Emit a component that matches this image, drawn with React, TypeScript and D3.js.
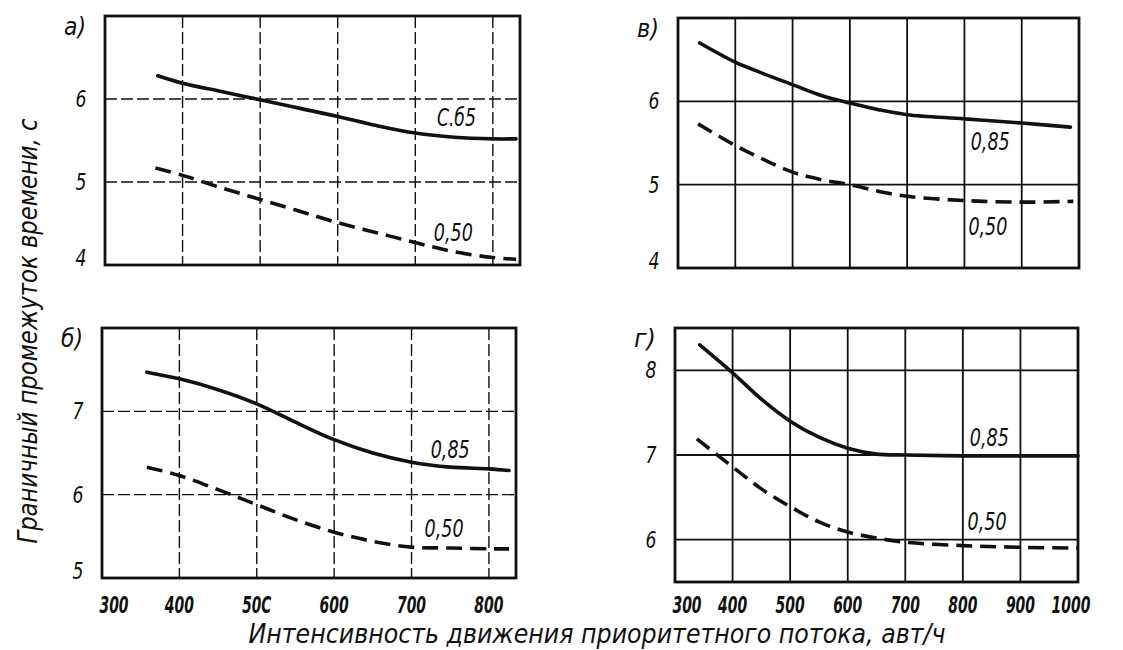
import React from "react";
import * as d3 from "d3";

// x ticks
const xTicksLeft = [300, 400, 500, 600, 700, 800];
const xTickLabelsLeft = ["300", "400", "50C", "600", "700", "800"];
const xTicksRight = [300, 400, 500, 600, 700, 800, 900, 1000];
const xTickLabelsRight = ["300", "400", "500", "600", "700", "800", "900", "1000"];

// panel a)
const aSolidX = [368, 400, 450, 500, 550, 600, 650, 700, 750, 800, 830];
const aSolidY = [6.28, 6.19, 6.09, 5.99, 5.89, 5.79, 5.68, 5.59, 5.54, 5.52, 5.52];
const aDashX = [365, 400, 450, 500, 550, 600, 650, 700, 750, 800, 830];
const aDashY = [5.17, 5.08, 4.93, 4.79, 4.65, 4.51, 4.39, 4.27, 4.16, 4.09, 4.07];

// panel б)
const bSolidX = [358, 400, 450, 500, 550, 600, 650, 700, 750, 800, 826];
const bSolidY = [7.47, 7.39, 7.26, 7.09, 6.87, 6.66, 6.5, 6.39, 6.33, 6.31, 6.29];
const bDashX = [358, 400, 450, 500, 550, 600, 650, 700, 750, 800, 826];
const bDashY = [6.33, 6.23, 6.06, 5.88, 5.7, 5.55, 5.44, 5.37, 5.36, 5.35, 5.35];

// panel в)
const vSolidX = [338, 400, 450, 500, 550, 600, 650, 700, 800, 900, 985];
const vSolidY = [6.7, 6.47, 6.33, 6.2, 6.07, 5.98, 5.9, 5.84, 5.79, 5.74, 5.69];
const vDashX = [335, 400, 450, 500, 550, 600, 650, 700, 800, 900, 990];
const vDashY = [5.73, 5.47, 5.3, 5.15, 5.06, 5.0, 4.92, 4.86, 4.81, 4.79, 4.8];

// panel г)
const gSolidX = [343, 400, 450, 500, 550, 600, 650, 700, 800, 900, 1000];
const gSolidY = [8.3, 7.97, 7.66, 7.4, 7.21, 7.08, 7.01, 7.0, 6.99, 6.99, 6.99];
const gDashX = [338, 400, 450, 500, 550, 600, 650, 700, 800, 900, 1000];
const gDashY = [7.19, 6.86, 6.6, 6.39, 6.21, 6.09, 6.02, 5.97, 5.93, 5.91, 5.9];

const FONT = "'DejaVu Sans Condensed', 'Liberation Sans Narrow', sans-serif";
const INK = "#111";

type Curve = { xs: number[]; ys: number[] };
type Lbl = { text: string; x: number; y: number };

interface PanelProps {
  box: [number, number, number, number];
  xDomain: [number, number];
  yDomain: [number, number];
  xGrid: number[];
  yGrid: number[];
  yLabels: number[];
  xLabels?: { ticks: number[]; text: string[] };
  solid: Curve;
  dashed: Curve;
  labels: Lbl[];
  letter: string;
  gridDash: string | undefined;
}

const line = d3.line<[number, number]>().curve(d3.curveCatmullRom.alpha(0.5));

const Panel = ({
  box,
  xDomain,
  yDomain,
  xGrid,
  yGrid,
  yLabels,
  xLabels,
  solid,
  dashed,
  labels,
  letter,
  gridDash,
}: PanelProps) => {
  const [x0, x1, y0, y1] = box;
  const x = d3.scaleLinear().domain(xDomain).range([x0, x1]);
  const y = d3.scaleLinear().domain(yDomain).range([y1, y0]);
  const path = (c: Curve) =>
    line.x((d) => x(d[0])).y((d) => y(d[1]))(
      c.xs.map((v, i) => [v, c.ys[i]] as [number, number])
    ) as string;
  const gw = gridDash ? 1.4 : 1.8;

  return (
    <g>
      {xGrid.map((v) => (
        <line
          key={"vx" + v}
          x1={x(v)}
          x2={x(v)}
          y1={y0}
          y2={y1}
          stroke={INK}
          strokeWidth={gw}
          strokeDasharray={gridDash}
        />
      ))}
      {yGrid.map((v) => (
        <line
          key={"hy" + v}
          x1={x0}
          x2={x1}
          y1={y(v)}
          y2={y(v)}
          stroke={INK}
          strokeWidth={gw}
          strokeDasharray={gridDash}
        />
      ))}
      <rect
        x={x0}
        y={y0}
        width={x1 - x0}
        height={y1 - y0}
        fill="none"
        stroke={INK}
        strokeWidth={2.8}
      />
      <path d={path(solid)} fill="none" stroke={INK} strokeWidth={3.6} strokeLinecap="round" />
      <path
        d={path(dashed)}
        fill="none"
        stroke={INK}
        strokeWidth={3.6}
        strokeDasharray="16 8"
      />
      {yLabels.map((v) => (
        <text
          key={"yl" + v}
          x={x0 - 24}
          y={y(v) + (Math.abs(y(v) - y1) < 2 ? -7 : 0)}
          textAnchor="middle"
          dominantBaseline="central"
          fontFamily={FONT}
          fontStyle="italic"
          fontSize={23}
          textLength={11}
          lengthAdjust="spacingAndGlyphs"
          fill={INK}
        >
          {v}
        </text>
      ))}
      {xLabels &&
        xLabels.ticks.map((v, i) => (
          <text
            key={"xl" + v}
            x={x(v)}
            dx={i === 0 ? 12 : v === 1000 ? -7 : 0}
            y={613}
            textAnchor="middle"
            fontFamily={FONT}
            fontStyle="italic"
            fontWeight={v === 1000 ? 900 : 700}
            fontSize={23}
            textLength={xLabels.text[i].length * 9.7}
            lengthAdjust="spacingAndGlyphs"
            fill={INK}
          >
            {xLabels.text[i]}
          </text>
        ))}
      {labels.map((l) => (
        <text
          key={l.text + l.y}
          x={x(l.x)}
          y={y(l.y)}
          textAnchor="middle"
          dominantBaseline="central"
          fontFamily={FONT}
          fontStyle="italic"
          fontSize={25}
          textLength={39}
          lengthAdjust="spacingAndGlyphs"
          fill={INK}
        >
          {l.text}
        </text>
      ))}
      <text
        x={x0 - 30}
        y={y0 + 19}
        textAnchor="middle"
        fontFamily={FONT}
        fontStyle="italic"
        fontSize={24}
        textLength={22}
        lengthAdjust="spacingAndGlyphs"
        fill={INK}
      >
        {letter}
      </text>
    </g>
  );
};

const App = () => {
  return (
    <div style={{ position: "absolute", left: 0, top: 0 }}>
      <svg width={1123} height={650} style={{ display: "block", background: "#fff" }}>
        <Panel
          box={[105, 520, 16, 265]}
          xDomain={[300, 835]}
          yDomain={[4, 7]}
          xGrid={xTicksLeft.slice(1)}
          yGrid={[5, 6]}
          yLabels={[4, 5, 6]}
          solid={{ xs: aSolidX, ys: aSolidY }}
          dashed={{ xs: aDashX, ys: aDashY }}
          labels={[
            { text: "C.б5", x: 753, y: 5.78 },
            { text: "0,50", x: 749, y: 4.39 },
          ]}
          letter="а)"
          gridDash="12 4"
        />
        <Panel
          box={[102, 516, 328, 578]}
          xDomain={[300, 835]}
          yDomain={[5, 8]}
          xGrid={xTicksLeft.slice(1)}
          yGrid={[6, 7]}
          yLabels={[5, 6, 7]}
          xLabels={{ ticks: xTicksLeft, text: xTickLabelsLeft }}
          solid={{ xs: bSolidX, ys: bSolidY }}
          dashed={{ xs: bDashX, ys: bDashY }}
          labels={[
            { text: "0,85", x: 750, y: 6.54 },
            { text: "0,50", x: 742, y: 5.59 },
          ]}
          letter="б)"
          gridDash="12 4"
        />
        <Panel
          box={[678, 1079, 18, 268]}
          xDomain={[300, 1000]}
          yDomain={[4, 7]}
          xGrid={xTicksRight.slice(1, -1)}
          yGrid={[5, 6]}
          yLabels={[4, 5, 6]}
          solid={{ xs: vSolidX, ys: vSolidY }}
          dashed={{ xs: vDashX, ys: vDashY }}
          labels={[
            { text: "0,85", x: 845, y: 5.52 },
            { text: "0,50", x: 841, y: 4.5 },
          ]}
          letter="в)"
          gridDash={undefined}
        />
        <Panel
          box={[675, 1078, 328, 582]}
          xDomain={[300, 1000]}
          yDomain={[5.5, 8.5]}
          xGrid={xTicksRight.slice(1, -1)}
          yGrid={[6, 7, 8]}
          yLabels={[6, 7, 8]}
          xLabels={{ ticks: xTicksRight, text: xTickLabelsRight }}
          solid={{ xs: gSolidX, ys: gSolidY }}
          dashed={{ xs: gDashX, ys: gDashY }}
          labels={[
            { text: "0,85", x: 846, y: 7.21 },
            { text: "0,50", x: 842, y: 6.21 },
          ]}
          letter="г)"
          gridDash={undefined}
        />
        <text
          transform="translate(37,331) rotate(-90)"
          textAnchor="middle"
          fontFamily={FONT}
          fontStyle="italic"
          fontSize={27}
          textLength={425}
          lengthAdjust="spacingAndGlyphs"
          fill={INK}
        >
          Граничный промежуток времени, с
        </text>
        <text
          x={597}
          y={643}
          textAnchor="middle"
          fontFamily={FONT}
          fontStyle="italic"
          fontSize={27}
          textLength={697}
          lengthAdjust="spacingAndGlyphs"
          fill={INK}
        >
          Интенсивность движения приоритетного потока, авт/ч
        </text>
      </svg>
    </div>
  );
};

export default App;
